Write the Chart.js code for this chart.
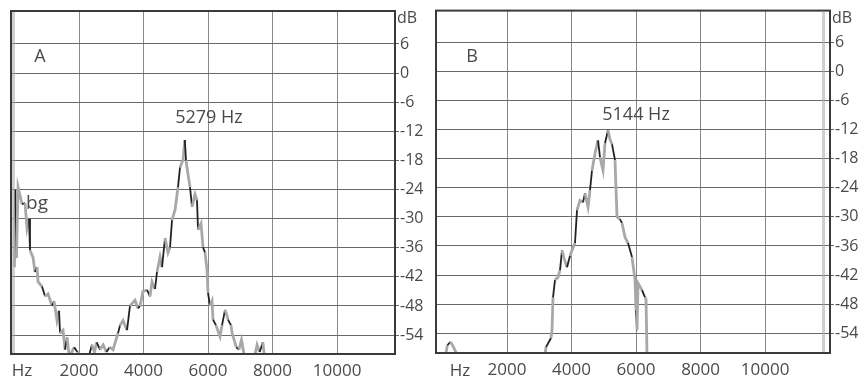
<!DOCTYPE html>
<html>
<head>
<meta charset="utf-8">
<script src="https://cdn.jsdelivr.net/npm/chart.js@4.4.1/dist/chart.umd.min.js"></script>
<style>
  html, body { margin: 0; padding: 0; background: #fff; }
  #wrap { position: relative; width: 866px; height: 380px; }
  .box { position: absolute; top: 0; width: 433px; height: 380px; }
</style>
</head>
<body>
<div id="wrap">
  <div class="box" style="left:0"><canvas id="cA"></canvas></div>
  <div class="box" style="left:433px"><canvas id="cB"></canvas></div>
</div>
<script>
// ---------- DATA ----------
const freqTicks = [2000, 4000, 6000, 8000, 10000];
const dbTicks = [-54, -48, -42, -36, -30, -24, -18, -12, -6, 0, 6];

// Panel A spectrum (Hz, dB)
const hzA = [0, 20, 60, 110, 233, 326, 388, 450, 480, 574, 636, 698, 729, 853, 946, 1039, 1163, 1225, 1318, 1380, 1411, 1504, 1566, 1628, 1700, 1850, 1950, 2100, 2300, 2400, 2480, 2550, 2650, 2750, 2850, 2950, 3054, 3209, 3271, 3364, 3488, 3580, 3736, 3829, 3891, 3984, 4108, 4200, 4263, 4356, 4418, 4511, 4573, 4666, 4759, 4821, 4883, 4976, 5069, 5131, 5224, 5279, 5317, 5348, 5441, 5503, 5596, 5658, 5689, 5782, 5844, 5906, 5968, 5999, 6061, 6123, 6154, 6247, 6371, 6433, 6526, 6588, 6619, 6712, 6743, 6875, 6960, 7037, 7130, 7440, 7520, 7600, 7700, 7750];
const dbA = [-40, -24, -38, -23.5, -27, -26.8, -32, -30, -36.5, -38, -41, -40, -43, -44, -46, -45.5, -48, -47, -51, -49, -53.6, -53, -57, -54.5, -58.5, -56.5, -57.5, -58.5, -58.5, -56, -57.5, -55.5, -57, -56, -57.5, -56.5, -57, -53.6, -52, -51, -53, -48, -46.8, -48.5, -48, -45, -44.7, -46, -43, -44.5, -41, -37.9, -40, -34, -37, -35.9, -30.3, -28.2, -23.5, -19.4, -17.9, -13.8, -18, -19.5, -23.5, -27.6, -25, -26.2, -32.3, -31, -35.9, -37, -40.6, -45.3, -48, -47, -50.8, -52, -54.3, -52, -48.8, -50, -50.8, -52, -53.5, -56.5, -57, -55, -58.5, -58.5, -56, -57.5, -55.5, -58.5];

// Panel B spectrum (Hz, dB); null = gap
const hzB = [100, 150, 250, 350, 450, 1800, 3178, 3209, 3364, 3395, 3426, 3488, 3580, 3643, 3705, 3767, 3860, 3953, 4015, 4108, 4170, 4263, 4356, 4418, 4511, 4573, 4635, 4728, 4821, 4883, 4976, 5038, 5131, 5193, 5255, 5348, 5410, 5503, 5565, 5658, 5751, 5875, 5968, 5999, 6030, 6061, 6185, 6278, 6309, 6340];
const dbB = [-58.5, -56.5, -55.8, -57, -58.5, null, -58.5, -56.9, -55, -53.4, -46.6, -43, -42.5, -41, -36.9, -38.5, -40.4, -38, -36.9, -35.4, -28.6, -26.6, -27, -25.1, -28, -24.5, -20.4, -16.9, -14.2, -17.7, -20.4, -14.8, -12.1, -14, -15, -18.3, -30, -30.5, -31.3, -34.2, -35.4, -38.3, -43, -49.3, -53.4, -43.7, -45.1, -46.6, -47, -58.5];

// Text labels
const panelNames = ['A', 'B'];
const peakLabels = ['5279 Hz', '5144 Hz'];
const peakLabelHz = [6030, 6000];
const peakLabelDb = [-9.3, -9.0];
const bgLabel = 'bg';
const bgLabelHz = 700;
const bgLabelDb = -27;

// ---------- RENDERING ----------
const FONT = '"Open Sans", "DejaVu Sans", sans-serif';
const TXT = '#4a4a4a';

function pts(xs, ys) { return xs.map((x, i) => ({ x: x, y: ys[i] })); }

const decorPlugin = {
  id: 'decor',
  afterDraw(chart, args, o) {
    const { ctx, chartArea: a, scales } = chart;
    ctx.save();
    ctx.strokeStyle = '#3a3a3a';
    ctx.lineWidth = 2;
    ctx.strokeRect(a.left, a.top, a.right - a.left, a.bottom - a.top);
    if (o.bandX != null) {
      ctx.fillStyle = 'rgba(170,170,170,0.55)';
      ctx.fillRect(o.bandX, a.top + 1, 3, a.bottom - a.top - 2);
    }
    ctx.fillStyle = TXT;
    ctx.font = '16px ' + FONT;
    ctx.textBaseline = 'middle';
    ctx.textAlign = 'left';
    ctx.fillText('dB', a.right + 2, 18);
    ctx.textAlign = 'center';
    ctx.font = '17px ' + FONT;
    ctx.fillText('Hz', o.hzX, 371);
    ctx.font = '18px ' + FONT;
    ctx.fillText(o.name, o.nameX, 57);
    ctx.fillText(o.peak, scales.x.getPixelForValue(o.peakHz), scales.y.getPixelForValue(o.peakDb));
    if (o.bg) {
      ctx.font = '19px ' + FONT;
      ctx.fillText(o.bg, scales.x.getPixelForValue(o.bgHz), scales.y.getPixelForValue(o.bgDb));
    }
    ctx.restore();
  }
};

function makeChart(id, data, opt) {
  return new Chart(document.getElementById(id), {
    type: 'line',
    data: {
      datasets: [{
        data: data,
        borderColor: '#a8a8a8',
        borderWidth: 2.4,
        pointRadius: 0,
        tension: 0,
        spanGaps: false,
        segment: {
          borderColor: c => (c.p0DataIndex % 3 === 1 ? '#222' : '#a8a8a8'),
          borderWidth: c => (c.p0DataIndex % 3 === 1 ? 1.8 : 2.8)
        }
      }]
    },
    options: {
      responsive: false,
      animation: false,
      devicePixelRatio: 1,
      layout: { padding: { left: opt.padLeft, top: opt.padTop, right: 0, bottom: 0 } },
      plugins: {
        legend: { display: false },
        tooltip: { enabled: false },
        decor: opt.decor
      },
      scales: {
        x: {
          type: 'linear',
          min: opt.xmin, max: opt.xmax,
          afterBuildTicks: s => { s.ticks = freqTicks.map(v => ({ value: v })); },
          afterFit: s => { s.height = 380 - opt.bottom; },
          border: { display: false },
          grid: { color: '#8a8a8a', lineWidth: 1, drawTicks: false, borderDash: [16, 3] },
          ticks: { color: TXT, font: { family: FONT, size: 17 }, padding: 7, maxRotation: 0, autoSkip: false, callback: v => String(v) }
        },
        y: {
          type: 'linear',
          position: 'right',
          min: opt.ymin, max: opt.ymax,
          afterBuildTicks: s => { s.ticks = dbTicks.map(v => ({ value: v })); },
          afterFit: s => { s.width = 433 - opt.right; },
          border: { display: false },
          grid: { color: '#6a6a6a', lineWidth: 1, tickLength: 4, drawTicks: true },
          ticks: { color: TXT, font: { family: FONT, size: 16 }, padding: 1, callback: v => String(v) }
        }
      }
    },
    plugins: [decorPlugin]
  });
}

function sizeCanvas(id) { const c = document.getElementById(id); c.width = 433; c.height = 380; c.style.width = '433px'; c.style.height = '380px'; }
sizeCanvas('cA'); sizeCanvas('cB');

makeChart('cA', pts(hzA, dbA), {
  padLeft: 11, padTop: 11, right: 395, bottom: 354,
  xmin: -109, xmax: 11796, ymin: -57.9, ymax: 12.8,
  decor: { name: panelNames[0], nameX: 40, hzX: 22, peak: peakLabels[0], peakHz: peakLabelHz[0], peakDb: peakLabelDb[0], bg: bgLabel, bgHz: bgLabelHz, bgDb: bgLabelDb, bandX: 12 }
});
makeChart('cB', pts(hzB, dbB), {
  padLeft: 3, padTop: 10, right: 397, bottom: 353,
  xmin: -201, xmax: 12012, ymin: -58.1, ymax: 12.6,
  decor: { name: panelNames[1], nameX: 39, hzX: 27, peak: peakLabels[1], peakHz: peakLabelHz[1], peakDb: peakLabelDb[1], bg: null, bandX: 389 }
});
</script>
</body>
</html>
